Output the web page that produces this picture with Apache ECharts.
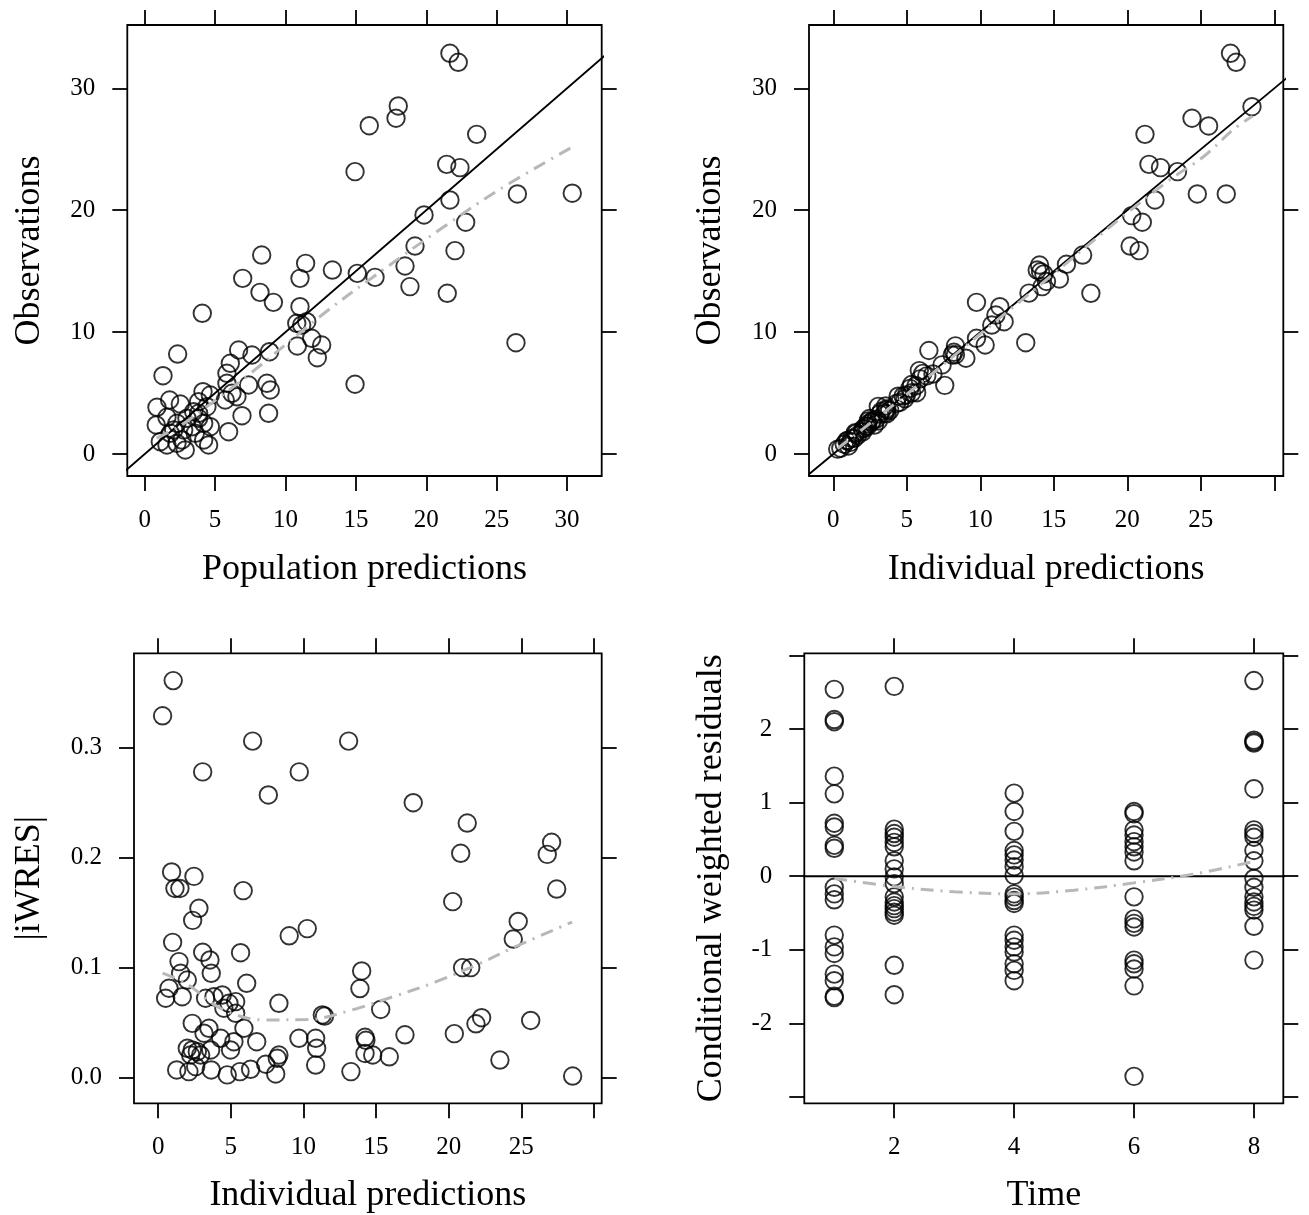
<!DOCTYPE html>
<html>
<head>
<meta charset="utf-8">
<title>Goodness-of-fit diagnostics</title>
<script src="https://cdn.jsdelivr.net/npm/echarts@6/dist/echarts.min.js"></script>
<style>
  html, body { margin: 0; padding: 0; background: #ffffff; }
  #chart { width: 1309px; height: 1215px; }
</style>
</head>
<body>
<div id="chart"></div>
<script>
// ---------- Observations vs population predictions ----------
const popPred = [21.68, 22.27, 18.01, 17.85, 15.95, 23.58, 14.94, 21.45, 22.39, 26.47, 30.37, 21.68, 19.84, 22.80,
  19.20, 22.04, 8.31, 11.43, 13.33, 18.49, 15.10, 16.36, 6.96, 11.03, 18.84, 21.49, 8.19, 9.14, 11.03, 4.09,
  10.80, 11.51, 11.15, 11.86, 12.57, 10.84, 12.26, 26.37, 14.94,
  2.34, 1.30, 6.67, 7.62, 8.87, 6.08, 5.84, 7.38, 8.92, 8.68, 5.84, 6.20, 6.55, 5.72, 4.14, 4.66, 3.83, 4.42,
  8.80, 6.91, 5.96, 0.87, 1.77, 2.53, 0.82, 1.58, 2.29, 3.00, 3.48, 3.83, 4.19, 3.36, 2.77, 2.06, 1.11, 1.58,
  2.29, 2.88, 4.19, 4.54, 3.59, 4.66, 3.83, 1.82, 2.65];
const popObs = [32.87, 32.13, 28.55, 27.54, 26.93, 26.22, 23.16, 23.76, 23.49, 21.33, 21.39, 20.84, 19.61, 19.01,
  17.06, 16.68, 16.32, 15.64, 15.09, 15.42, 14.82, 14.49, 14.41, 14.41, 13.73, 13.18, 13.26, 12.44, 12.08, 11.54,
  10.72, 10.85, 10.58, 9.49, 8.94, 8.86, 7.90, 9.13, 5.72,
  8.20, 6.42, 8.53, 8.12, 8.39, 7.44, 6.62, 5.66, 5.25, 5.80, 5.80, 4.98, 4.70, 4.43, 5.11, 4.84, 4.29, 3.88,
  3.34, 3.14, 1.83, 3.83, 4.43, 4.10, 2.38, 3.01, 2.52, 2.93, 3.47, 2.93, 2.52, 2.24, 1.97, 1.97, 1.01, 0.74,
  0.88, 0.33, 1.15, 0.74, 1.70, 2.24, 3.34, 1.70, 1.15];
const popSmoothX = [0.85, 2.5, 4.9, 7.5, 12.7, 16.2, 21.2, 25.2, 30.4];
const popSmoothY = [1.3, 2.3, 4.3, 6.6, 11.5, 14.5, 18.6, 21.7, 25.2];

// ---------- Observations vs individual predictions ----------
const indPred = [27.02, 27.40, 28.48, 24.40, 25.53, 21.20, 21.47, 22.26, 23.41, 24.76, 26.73, 21.88, 20.30, 21.02,
  20.19, 20.80, 16.96, 15.86, 14.03, 13.87, 14.32, 15.38, 14.21, 17.52, 13.31, 9.74, 11.33, 11.06, 11.62, 10.78,
  13.09, 9.74, 10.33, 14.10, 14.50,
  0.30, 1.03, 0.92, 2.46, 1.15, 1.49, 5.85, 2.80, 2.37, 0.99, 3.06, 3.06, 5.67, 3.56, 1.43, 1.54, 2.00, 3.65,
  6.09, 0.74, 0.51, 1.65, 3.26, 3.84, 4.41, 4.87, 5.33, 4.52, 5.33, 8.31, 2.34, 3.49, 3.15, 4.30, 5.21, 4.98,
  5.90, 6.78, 3.61, 2.00, 2.34, 2.69, 2.92, 2.23, 8.31, 8.20, 1.27, 2.11, 2.58, 3.65, 4.75, 5.63, 6.36, 7.40,
  8.09, 6.50, 7.58, 9.02];
const indObs = [32.87, 32.13, 28.49, 27.54, 26.91, 26.22, 23.76, 23.49, 23.16, 21.33, 21.33, 20.84, 19.55, 19.01,
  17.06, 16.68, 16.32, 15.56, 15.50, 15.09, 14.77, 14.36, 13.73, 13.18, 13.20, 12.44, 12.08, 11.40, 10.85, 10.58,
  9.13, 9.49, 8.94, 14.95, 14.15,
  0.40, 0.66, 1.09, 2.91, 0.95, 1.75, 6.84, 2.37, 2.71, 1.11, 3.91, 2.71, 5.03, 3.94, 1.28, 1.69, 1.82, 3.30,
  6.61, 0.80, 0.47, 1.53, 3.50, 3.56, 4.74, 4.54, 5.70, 4.23, 5.02, 8.87, 2.46, 3.33, 3.28, 4.15, 5.38, 4.85,
  6.16, 6.56, 3.70, 2.05, 2.28, 2.75, 2.86, 2.28, 8.14, 8.34, 1.28, 2.10, 2.61, 3.62, 4.76, 5.60, 6.41, 7.31,
  8.12, 8.49, 5.63, 7.86];
const indSmoothX = [0.3, 5, 10, 15, 19.7, 22.9, 25.2, 27.2, 28.5];
const indSmoothY = [0.45, 4.9, 9.85, 14.8, 19.5, 22.5, 24.4, 26.6, 27.7];

// ---------- |iWRES| vs individual predictions ----------
const iwresPred = [1.03, 0.30, 6.50, 13.11, 3.06, 9.71, 7.58, 17.56, 21.28, 27.09, 20.83, 26.79, 27.44, 20.28,
  0.92, 2.46, 1.15, 1.49, 5.85, 2.80, 2.37, 10.26, 9.02, 24.79, 24.45, 0.99, 3.06, 5.67, 3.56, 1.43,
  14.01, 13.89, 20.96, 21.52, 15.32, 22.27, 21.88, 25.65, 16.99, 20.39, 14.24, 14.30, 14.24, 14.77, 15.91,
  23.53, 13.27, 28.54,
  1.54, 2.00, 3.65, 6.09, 0.74, 0.51, 1.65, 3.26, 3.84, 4.41, 4.87, 5.33, 4.52, 5.33, 8.31, 11.30, 11.45,
  2.34, 3.49, 3.15, 4.30, 5.21, 4.98, 5.90, 6.78, 3.61, 2.00, 2.34, 2.69, 2.92, 2.23, 9.69, 10.84, 10.91,
  8.31, 8.20, 1.27, 2.11, 2.58, 3.65, 4.75, 5.63, 6.36, 7.40, 8.09, 10.84];
const iwresAbs = [0.361, 0.329, 0.306, 0.306, 0.278, 0.278, 0.257, 0.250, 0.2315, 0.214, 0.204, 0.203, 0.1715, 0.160,
  0.187, 0.183, 0.172, 0.172, 0.170, 0.154, 0.143, 0.1355, 0.129, 0.142, 0.126, 0.123, 0.114, 0.1136, 0.107, 0.1055,
  0.097, 0.081, 0.100, 0.100, 0.062, 0.0545, 0.049, 0.052, 0.039, 0.040, 0.0367, 0.034, 0.022, 0.0206, 0.019,
  0.016, 0.0055, 0.0015,
  0.0949, 0.0888, 0.0949, 0.0858, 0.0813, 0.0722, 0.0736, 0.0722, 0.0736, 0.0752, 0.0676, 0.0691, 0.0631, 0.0585,
  0.0676, 0.057, 0.056,
  0.0494, 0.0449, 0.0404, 0.0358, 0.0327, 0.0252, 0.0449, 0.0327, 0.0252, 0.0267, 0.0252, 0.0236, 0.0206, 0.0206,
  0.0358, 0.0358, 0.0267,
  0.0206, 0.0176, 0.0070, 0.0055, 0.0100, 0.0070, 0.0025, 0.0055, 0.0076, 0.0122, 0.0034, 0.0115];
const iwresSmoothX = [0.3, 2.0, 4.3, 7.2, 10.3, 13.2, 16.2, 19.1, 22.0, 24.7, 28.5];
const iwresSmoothY = [0.095, 0.085, 0.063, 0.0525, 0.0528, 0.061, 0.0737, 0.087, 0.103, 0.1197, 0.1415];

// ---------- Conditional weighted residuals vs time ----------
const cwresTimes = [1, 2, 4, 6, 8];
const cwresT1 = [2.54, 2.13, 2.10, 1.36, 1.12, 0.72, 0.67, 0.42, 0.38, -0.15, -0.24, -0.32, -0.80, -0.96, -1.05,
  -1.33, -1.42, -1.63, -1.65];
const cwresT2 = [2.58, 0.64, 0.58, 0.53, 0.46, 0.40, 0.21, 0.10, -0.01, -0.10, -0.28, -0.35, -0.40, -0.44, -0.49,
  -0.53, -1.21, -1.61];
const cwresT4 = [1.13, 0.88, 0.61, 0.35, 0.29, 0.22, 0.13, 0.01, -0.24, -0.28, -0.33, -0.37, -0.80, -0.87, -0.96,
  -1.03, -1.19, -1.28, -1.42];
const cwresT6 = [0.88, 0.85, 0.63, 0.56, 0.47, 0.40, 0.33, 0.21, -0.28, -0.58, -0.64, -0.69, -1.14, -1.19, -1.26,
  -1.49, -2.72];
const cwresT8 = [2.66, 1.85, 1.83, 1.81, 1.19, 0.63, 0.58, 0.53, 0.35, 0.21, -0.03, -0.15, -0.28, -0.35, -0.41,
  -0.46, -0.68, -1.14];
const cwresSmoothX = [1, 2, 3, 4, 5, 6, 7, 8];
const cwresSmoothY = [-0.03, -0.14, -0.21, -0.24, -0.19, -0.09, 0.03, 0.2];

// ---------- Tick positions and labels ----------
const predTicks = [0, 5, 10, 15, 20, 25, 30];
const predLabelsFull = [0, 5, 10, 15, 20, 25, 30];
const predLabelsShort = [0, 5, 10, 15, 20, 25];
const obsTicks = [0, 10, 20, 30];
const iwresTicks = [0, 0.1, 0.2, 0.3];
const timeTicks = [2, 4, 6, 8];
const cwresTicks = [-3, -2, -1, 0, 1, 2, 3];
const cwresLabels = [-2, -1, 0, 1, 2];
const identityLine = [[-5, -5], [40, 40]];
const zeroLine = [[0, 0], [9, 0]];

// ---------- Styling ----------
const FONT = '"Liberation Serif", "Times New Roman", serif';
const TICK_FONT = 25;
const TITLE_FONT = 36;
const INK = '#000000';
const SMOOTH_GREY = '#b8b8b8';
const FRAME_W = 1.8;

const pairs = (xs, ys) => xs.map((x, i) => [x, ys[i]]);

function makeAxis(dim, gridIndex, min, max, ticks, labels, opts) {
  const main = opts.main;
  const ax = {
    type: 'value',
    gridIndex,
    min, max,
    position: main ? (dim === 'x' ? 'bottom' : 'left') : (dim === 'x' ? 'top' : 'right'),
    axisLine: { show: false, onZero: false },
    splitLine: { show: false },
    axisTick: {
      show: true, inside: false, length: 15,
      lineStyle: { color: INK, width: FRAME_W },
      customValues: ticks
    },
    axisLabel: main ? {
      show: true,
      customValues: labels,
      formatter: opts.formatter || (v => String(v)),
      fontFamily: FONT, fontSize: TICK_FONT, color: INK,
      margin: dim === 'x' ? 32 : 32
    } : { show: false },
    silent: true
  };
  if (main && opts.name) {
    ax.name = opts.name;
    ax.nameLocation = 'middle';
    ax.nameGap = opts.nameGap;
    ax.nameTextStyle = { fontFamily: FONT, fontSize: TITLE_FONT, color: INK };
  }
  return ax;
}

const grids = [
  { left: 127.3, top: 25, width: 474.4, height: 451 },
  { left: 809, top: 25, width: 474.3, height: 451 },
  { left: 134, top: 653.3, width: 467.7, height: 450 },
  { left: 804.3, top: 653.3, width: 479, height: 450 }
].map(g => Object.assign({
  show: true, borderColor: INK, borderWidth: FRAME_W, backgroundColor: 'transparent',
  containLabel: false, outerBoundsMode: 'none'
}, g));

const xRange = [[-1.236, 32.46], [-1.653, 30.61], [-1.67, 30.54], [0.5, 8.49]];
const yRange = [[-1.805, 35.19], [-1.805, 35.19], [-0.0233, 0.3858], [-3.086, 3.03]];

const xAxes = [
  makeAxis('x', 0, ...xRange[0], predTicks, predLabelsFull, { main: true, name: 'Population predictions', nameGap: 76 }),
  makeAxis('x', 0, ...xRange[0], predTicks, [], { main: false }),
  makeAxis('x', 1, ...xRange[1], predTicks, predLabelsShort, { main: true, name: 'Individual predictions', nameGap: 76 }),
  makeAxis('x', 1, ...xRange[1], predTicks, [], { main: false }),
  makeAxis('x', 2, ...xRange[2], predTicks, predLabelsShort, { main: true, name: 'Individual predictions', nameGap: 74 }),
  makeAxis('x', 2, ...xRange[2], predTicks, [], { main: false }),
  makeAxis('x', 3, ...xRange[3], timeTicks, timeTicks, { main: true, name: 'Time', nameGap: 74 }),
  makeAxis('x', 3, ...xRange[3], timeTicks, [], { main: false })
];

const yAxes = [
  makeAxis('y', 0, ...yRange[0], obsTicks, obsTicks, { main: true, name: 'Observations', nameGap: 80 }),
  makeAxis('y', 0, ...yRange[0], obsTicks, [], { main: false }),
  makeAxis('y', 1, ...yRange[1], obsTicks, obsTicks, { main: true, name: 'Observations', nameGap: 80 }),
  makeAxis('y', 1, ...yRange[1], obsTicks, [], { main: false }),
  makeAxis('y', 2, ...yRange[2], iwresTicks, iwresTicks,
    { main: true, name: '|iWRES|', nameGap: 86, formatter: v => Number(v).toFixed(1) }),
  makeAxis('y', 2, ...yRange[2], iwresTicks, [], { main: false }),
  makeAxis('y', 3, ...yRange[3], cwresTicks, cwresLabels,
    { main: true, name: 'Conditional weighted residuals', nameGap: 75 }),
  makeAxis('y', 3, ...yRange[3], cwresTicks, [], { main: false })
];

const pointStyle = {
  type: 'scatter',
  symbol: 'circle',
  symbolSize: 17.5,
  itemStyle: { color: 'rgba(0,0,0,0)', borderColor: INK, borderWidth: 1.9 },
  emphasis: { disabled: true },
  silent: true,
  z: 3
};
const smoothStyle = {
  type: 'line',
  smooth: 0.35,
  symbol: 'none',
  lineStyle: { color: SMOOTH_GREY, width: 3, type: [13, 7, 2, 7] },
  emphasis: { disabled: true },
  silent: true,
  z: 4
};
const refStyle = {
  type: 'line',
  symbol: 'none',
  clip: true,
  lineStyle: { color: INK, width: FRAME_W },
  emphasis: { disabled: true },
  silent: true,
  z: 2
};

const cwresPoints = [];
[cwresT1, cwresT2, cwresT4, cwresT6, cwresT8].forEach((vals, k) => {
  vals.forEach(v => cwresPoints.push([cwresTimes[k], v]));
});

const series = [
  // panel 1
  Object.assign({}, refStyle, { xAxisIndex: 0, yAxisIndex: 0, data: identityLine }),
  Object.assign({}, pointStyle, { xAxisIndex: 0, yAxisIndex: 0, data: pairs(popPred, popObs) }),
  Object.assign({}, smoothStyle, { xAxisIndex: 0, yAxisIndex: 0, data: pairs(popSmoothX, popSmoothY) }),
  // panel 2
  Object.assign({}, refStyle, { xAxisIndex: 2, yAxisIndex: 2, data: identityLine }),
  Object.assign({}, pointStyle, { xAxisIndex: 2, yAxisIndex: 2, data: pairs(indPred, indObs) }),
  Object.assign({}, smoothStyle, { xAxisIndex: 2, yAxisIndex: 2, data: pairs(indSmoothX, indSmoothY) }),
  // panel 3
  Object.assign({}, pointStyle, { xAxisIndex: 4, yAxisIndex: 4, data: pairs(iwresPred, iwresAbs) }),
  Object.assign({}, smoothStyle, { xAxisIndex: 4, yAxisIndex: 4, data: pairs(iwresSmoothX, iwresSmoothY) }),
  // panel 4
  Object.assign({}, refStyle, { xAxisIndex: 6, yAxisIndex: 6, data: zeroLine }),
  Object.assign({}, pointStyle, { xAxisIndex: 6, yAxisIndex: 6, data: cwresPoints }),
  Object.assign({}, smoothStyle, { xAxisIndex: 6, yAxisIndex: 6, data: pairs(cwresSmoothX, cwresSmoothY) })
];

const chart = echarts.init(document.getElementById('chart'), null, { renderer: 'canvas' });
chart.setOption({
  backgroundColor: '#ffffff',
  animation: false,
  grid: grids,
  xAxis: xAxes,
  yAxis: yAxes,
  series
});
</script>
</body>
</html>
